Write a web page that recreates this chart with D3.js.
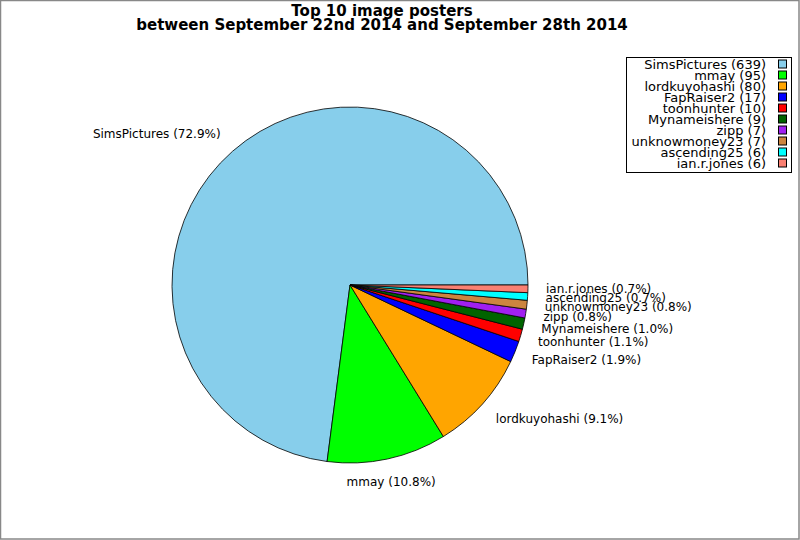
<!DOCTYPE html>
<html><head><meta charset="utf-8">
<script src="https://cdn.jsdelivr.net/npm/d3@7"></script>
<style>body{margin:0;background:#fff}svg{display:block;font-family:"DejaVu Sans",sans-serif}</style>
</head><body><svg id="c" width="800" height="540"></svg>
<script>
const names = ["SimsPictures","mmay","lordkuyohashi","FapRaiser2","toonhunter","Mynameishere","zipp","unknowmoney23","ascending25","ian.r.jones"];
const counts = [639,95,80,17,10,9,7,7,6,6];
const colors = ["#87CEEB","#00FF00","#FFA500","#0000FF","#FF0000","#006400","#A020F0","#CD853F","#00FFFF","#FA8072"];
const titleLines = ["Top 10 image posters","between September 22nd 2014 and September 28th 2014"];

const svg = d3.select("#c");
svg.append("rect").attr("x",0.5).attr("y",0.5).attr("width",798.5).attr("height",538.5)
  .attr("fill","#fff").attr("stroke","#888").attr("stroke-width",1.5);

const cx = 350, cy = 285, R = 178;
const total = d3.sum(counts);
const data = names.map((n,i)=>({name:n,count:counts[i],color:colors[i]}));
const pie = d3.pie().value(d=>d.count).sort(null)
  .startAngle(Math.PI/2).endAngle(Math.PI/2 - 2*Math.PI);
const arcs = pie(data);
const arc = d3.arc().innerRadius(0).outerRadius(R);
const g = svg.append("g").attr("transform",`translate(${cx},${cy})`);
g.selectAll("path").data(arcs).join("path")
  .attr("d",arc).attr("fill",d=>d.data.color)
  .attr("stroke","#000").attr("stroke-width",0.8).attr("stroke-linejoin","round");

const LR = R + 18;
g.selectAll("text.lab").data(arcs).join("text").attr("class","lab")
  .each(function(d){
    const a = (d.startAngle + d.endAngle)/2;
    const s = Math.sin(a), c = -Math.cos(a); // s: x dir, c: y dir (screen)
    const x = s*LR, y = c*LR + c*5;
    const anchor = s > 0.3 ? "start" : (s < -0.3 ? "end" : "middle");
    d3.select(this).attr("x",x).attr("y",y).attr("text-anchor",anchor)
      .attr("dominant-baseline","central").attr("font-size",12).attr("fill","#000")
      .text(`${d.data.name} (${(d.data.count/total*100).toFixed(1)}%)`);
  });

svg.selectAll("text.title").data(titleLines).join("text").attr("class","title")
  .attr("x",382).attr("y",(d,i)=>16+i*14).attr("text-anchor","middle")
  .attr("font-weight","bold").attr("font-size",15).text(d=>d);

// legend
const lg = svg.append("g");
lg.append("rect").attr("x",626.5).attr("y",57.5).attr("width",165).attr("height",115)
  .attr("fill","#fff").attr("stroke","#000").attr("stroke-width",1);
const rowY = d3.scalePoint().domain(names).range([64,163]);
names.forEach((n,i)=>{
  lg.append("text").attr("x",766).attr("y",rowY(n)).attr("text-anchor","end")
    .attr("dominant-baseline","central").attr("font-size",13).text(`${n} (${counts[i]})`);
  lg.append("rect").attr("x",778.5).attr("y",rowY(n)-4).attr("width",8).attr("height",8)
    .attr("fill",colors[i]).attr("stroke","#000").attr("stroke-width",1);
});
</script></body></html>
